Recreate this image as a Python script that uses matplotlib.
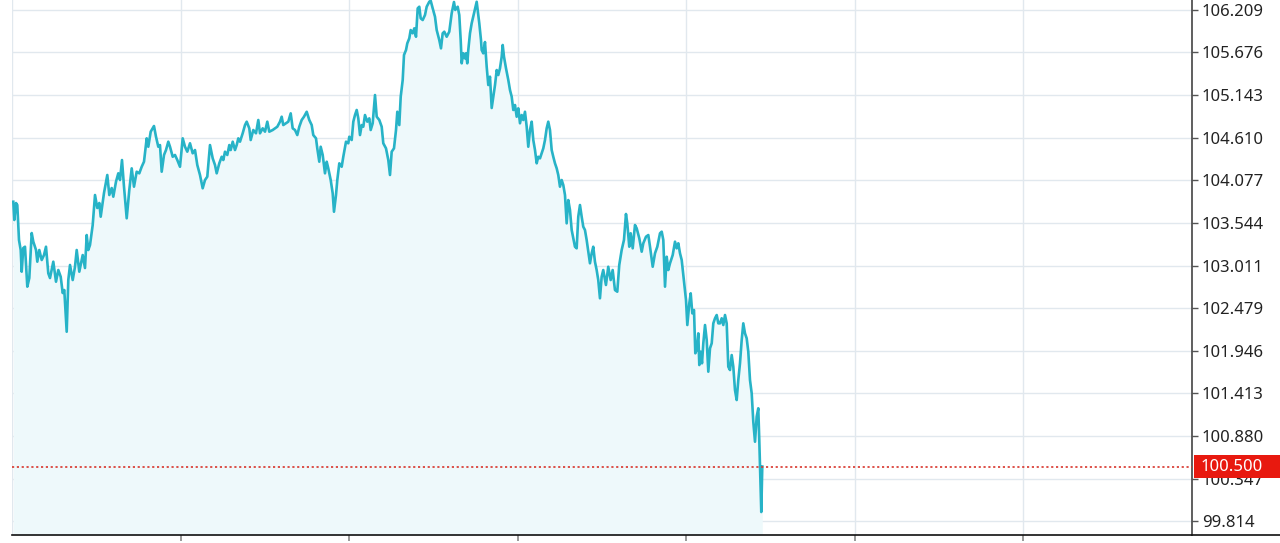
import matplotlib
matplotlib.use("Agg")
import matplotlib.pyplot as plt
import matplotlib.transforms as mtransforms
from matplotlib.patches import Rectangle

# ---- data (time in grid-days, price) ----
t_days = [
    0.0077, 0.0136, 0.0237, 0.0314, 0.0415, 0.0516, 0.0575, 0.0670, 0.0771, 0.0908,
    0.1026, 0.1169, 0.1264, 0.1424, 0.1501, 0.1619, 0.1762, 0.1898, 0.2017, 0.2153,
    0.2254, 0.2450, 0.2610, 0.2747, 0.2889, 0.3008, 0.3102, 0.3245, 0.3340, 0.3441,
    0.3601, 0.3737, 0.3838, 0.3992, 0.4194, 0.4330, 0.4431, 0.4526, 0.4627, 0.4787,
    0.4924, 0.5060, 0.5179, 0.5262, 0.5457, 0.5653, 0.5772, 0.5914, 0.6009, 0.6169,
    0.6306, 0.6407, 0.6525, 0.6644, 0.6804, 0.6958, 0.7101, 0.7237, 0.7397, 0.7551,
    0.7694, 0.7830, 0.7990, 0.8085, 0.8228, 0.8346, 0.8423, 0.8542, 0.8679, 0.8779,
    0.8880, 0.9017, 0.9135, 0.9272, 0.9373, 0.9533, 0.9669, 0.9806, 0.9966, 1.0126,
    1.0263, 1.0399, 1.0559, 1.0719, 1.0856, 1.0992, 1.1152, 1.1312, 1.1449, 1.1585,
    1.1745, 1.1906, 1.2042, 1.2143, 1.2297, 1.2440, 1.2535, 1.2635, 1.2772, 1.2891,
    1.2974, 1.3093, 1.3229, 1.3330, 1.3424, 1.3525, 1.3685, 1.3822, 1.3923, 1.4077,
    1.4160, 1.4314, 1.4474, 1.4611, 1.4712, 1.4872, 1.5008, 1.5145, 1.5263, 1.5465,
    1.5601, 1.5738, 1.5898, 1.5998, 1.6093, 1.6254, 1.6390, 1.6533, 1.6651, 1.6788,
    1.6924, 1.7043, 1.7185, 1.7322, 1.7482, 1.7636, 1.7778, 1.7873, 1.8033, 1.8110,
    1.8229, 1.8312, 1.8431, 1.8567, 1.8668, 1.8763, 1.8906, 1.9024, 1.9101, 1.9220,
    1.9297, 1.9416, 1.9558, 1.9653, 1.9814, 1.9950, 2.0009, 2.0152, 2.0247, 2.0347,
    2.0448, 2.0543, 2.0644, 2.0745, 2.0839, 2.0940, 2.1077, 2.1195, 2.1278, 2.1397,
    2.1534, 2.1635, 2.1789, 2.1931, 2.2026, 2.2186, 2.2323, 2.2423, 2.2524, 2.2660,
    2.2780, 2.2857, 2.2975, 2.3059, 2.3177, 2.3254, 2.3373, 2.3450, 2.3568, 2.3651,
    2.3770, 2.3865, 2.3966, 2.4067, 2.4161, 2.4244, 2.4363, 2.4499, 2.4600, 2.4754,
    2.4837, 2.4956, 2.5093, 2.5193, 2.5347, 2.5448, 2.5549, 2.5644, 2.5786, 2.5940,
    2.6083, 2.6219, 2.6296, 2.6439, 2.6534, 2.6617, 2.6676, 2.6771, 2.6872, 2.6931,
    2.7008, 2.7068, 2.7169, 2.7269, 2.7406, 2.7566, 2.7625, 2.7720, 2.7821, 2.7862,
    2.7957, 2.8058, 2.8159, 2.8254, 2.8355, 2.8456, 2.8551, 2.8653, 2.8754, 2.8848,
    2.8948, 2.9049, 2.9109, 2.9186, 2.9305, 2.9442, 2.9542, 2.9643, 2.9738, 2.9839,
    2.9939, 3.0034, 3.0135, 3.0236, 3.0331, 3.0431, 3.0532, 3.0627, 3.0728, 3.0829,
    3.0924, 3.1025, 3.1125, 3.1220, 3.1321, 3.1422, 3.1517, 3.1618, 3.1718, 3.1813,
    3.1914, 3.2015, 3.2110, 3.2211, 3.2312, 3.2406, 3.2507, 3.2608, 3.2703, 3.2804,
    3.2904, 3.2999, 3.3100, 3.3201, 3.3295, 3.3396, 3.3497, 3.3592, 3.3693, 3.3794,
    3.3889, 3.3989, 3.4090, 3.4185, 3.4286, 3.4387, 3.4482, 3.4582, 3.4683, 3.4778,
    3.4879, 3.4980, 3.5074, 3.5234, 3.5371, 3.5514, 3.5633, 3.5769, 3.5906, 3.6024,
    3.6167, 3.6303, 3.6422, 3.6500, 3.6618, 3.6702, 3.6821, 3.6957, 3.7058, 3.7212,
    3.7355, 3.7450, 3.7610, 3.7747, 3.7848, 3.8008, 3.8144, 3.8281, 3.8441, 3.8542,
    3.8637, 3.8738, 3.8838, 3.8933, 3.9034, 3.9194, 3.9331, 3.9431, 3.9526, 3.9627,
    3.9728, 3.9823, 3.9983, 4.0061, 4.0179, 4.0262, 4.0357, 4.0458, 4.0535, 4.0618,
    4.0713, 4.0772, 4.0855, 4.0932, 4.1010, 4.1111, 4.1211, 4.1306, 4.1407, 4.1508,
    4.1603, 4.1704, 4.1804, 4.1899, 4.2000, 4.2101, 4.2196, 4.2297, 4.2397, 4.2492,
    4.2593, 4.2694, 4.2789, 4.2889, 4.2990, 4.3085, 4.3186, 4.3287, 4.3382, 4.3483,
    4.3583, 4.3678, 4.3779, 4.3880, 4.3975, 4.4076, 4.4176, 4.4271, 4.4330, 4.4413,
    4.4449, 4.4508,
]

price = [
    103.808, 103.580, 103.792, 103.767, 103.330, 103.205, 102.934, 103.230, 103.246, 102.747,
    102.855, 103.417, 103.309, 103.205, 103.059, 103.205, 103.080, 103.142, 103.246, 102.914,
    102.855, 103.059, 102.809, 102.955, 102.871, 102.668, 102.705, 102.184, 102.830, 103.018,
    102.830, 102.996, 103.205, 102.934, 103.142, 102.980, 103.392, 103.205, 103.267, 103.517,
    103.892, 103.730, 103.792, 103.621, 103.917, 104.142, 103.892, 103.979, 103.871, 104.058,
    104.163, 104.079, 104.329, 103.996, 103.601, 103.954, 104.225, 103.996, 104.183, 104.163,
    104.245, 104.308, 104.600, 104.495, 104.683, 104.725, 104.754, 104.620, 104.495, 104.516,
    104.183, 104.392, 104.454, 104.558, 104.495, 104.370, 104.392, 104.329, 104.245, 104.600,
    104.495, 104.433, 104.538, 104.413, 104.454, 104.267, 104.142, 103.976, 104.079, 104.121,
    104.516, 104.350, 104.267, 104.163, 104.288, 104.370, 104.329, 104.433, 104.392, 104.516,
    104.454, 104.558, 104.454, 104.516, 104.600, 104.558, 104.663, 104.766, 104.808, 104.725,
    104.579, 104.704, 104.663, 104.829, 104.663, 104.725, 104.683, 104.808, 104.683, 104.704,
    104.725, 104.745, 104.808, 104.870, 104.766, 104.788, 104.808, 104.912, 104.725, 104.704,
    104.641, 104.745, 104.829, 104.870, 104.932, 104.829, 104.766, 104.641, 104.600, 104.475,
    104.308, 104.495, 104.392, 104.163, 104.308, 104.225, 104.079, 103.913, 103.683, 103.892,
    104.079, 104.288, 104.245, 104.370, 104.558, 104.538, 104.620, 104.579, 104.808, 104.891,
    104.954, 104.850, 104.641, 104.766, 104.745, 104.891, 104.808, 104.850, 104.704, 104.788,
    105.141, 104.870, 104.829, 104.745, 104.538, 104.475, 104.329, 104.142, 104.433, 104.475,
    104.704, 104.932, 104.766, 105.120, 105.328, 105.641, 105.703, 105.787, 105.849, 105.953,
    105.912, 105.974, 105.869, 106.224, 106.244, 106.099, 106.078, 106.140, 106.244, 106.306,
    106.320, 106.224, 106.119, 105.953, 105.828, 105.724, 105.912, 105.932, 105.869, 105.932,
    106.162, 106.303, 106.203, 106.244, 106.140, 105.828, 105.537, 105.662, 105.599, 105.662,
    105.537, 105.703, 105.912, 106.037, 106.162, 106.306, 106.203, 106.037, 105.828, 105.703,
    105.662, 105.803, 105.495, 105.266, 105.370, 104.979, 105.120, 105.266, 105.453, 105.391,
    105.475, 105.619, 105.766, 105.619, 105.475, 105.328, 105.203, 105.120, 104.954, 105.016,
    104.870, 104.975, 104.788, 104.891, 104.829, 104.932, 104.745, 104.495, 104.704, 104.808,
    104.579, 104.454, 104.288, 104.370, 104.350, 104.413, 104.475, 104.579, 104.725, 104.808,
    104.704, 104.454, 104.370, 104.288, 104.225, 104.142, 103.996, 104.079, 104.017, 103.892,
    103.538, 103.829, 103.705, 103.455, 103.351, 103.246, 103.226, 103.621, 103.767, 103.621,
    103.496, 103.455, 103.330, 103.184, 103.039, 103.164, 103.246, 103.059, 102.955, 102.830,
    102.602, 102.871, 102.955, 102.768, 102.996, 102.830, 102.955, 102.705, 102.684, 103.018,
    103.205, 103.330, 103.655, 103.538, 103.246, 103.414, 103.226, 103.517, 103.476, 103.351,
    103.184, 103.289, 103.371, 103.392, 103.246, 102.996, 103.164, 103.246, 103.414, 103.434,
    103.330, 102.747, 103.121, 102.955, 103.039, 103.142, 103.309, 103.226, 103.289, 103.164,
    103.080, 102.893, 102.580, 102.268, 102.539, 102.664, 102.414, 102.455, 101.915, 101.956,
    102.164, 101.768, 101.935, 101.790, 102.040, 102.268, 102.081, 101.685, 101.977, 102.040,
    102.289, 102.352, 102.393, 102.289, 102.289, 102.352, 102.268, 102.393, 102.289, 101.747,
    101.706, 101.893, 101.747, 101.456, 101.331, 101.581, 101.790, 102.081, 102.289, 102.164,
    102.102, 101.935, 101.581, 101.415, 101.060, 100.810, 101.123, 101.228, 100.832, 100.207,
    99.932, 100.500,
]

y_ticks = [99.814, 100.347, 100.880, 101.413, 101.946, 102.479, 103.011,
           103.544, 104.077, 104.610, 105.143, 105.676, 106.209]
y_tick_labels = ["99.814", "100.347", "100.880", "101.413", "101.946", "102.479", "103.011",
                 "103.544", "104.077", "104.610", "105.143", "105.676", "106.209"]
x_grid = [0, 1, 2, 3, 4, 5, 6, 7]
x_ticks = [1, 2, 3, 4, 5, 6]
current_price = 100.500
current_label = "100.500"

plt.rcParams['font.family'] = ['Noto Sans', 'DejaVu Sans']

fig = plt.figure(figsize=(12.8, 5.43), dpi=100)
ax = fig.add_axes([12 / 1280, 8 / 543, 1180 / 1280, 535 / 543])

ymin, ymax = 99.645, 106.328
ax.set_xlim(0, 7)
ax.set_ylim(ymin, ymax)

# grid
for gx in x_grid:
    ax.axvline(gx, color='#e1e8ee', lw=1.0, zorder=0)
for gy in y_ticks:
    ax.axhline(gy, color='#e1e8ee', lw=1.0, zorder=0)

line_color = '#27b3c7'
ax.fill_between(t_days, price, ymin, color='#eef9fb', lw=0, zorder=1)
ax.plot(t_days, price, color=line_color, lw=1.9, zorder=3, solid_joinstyle='round')

# current price line
ax.axhline(current_price, color='#d8352b', lw=1.2, linestyle=(0, (1.3, 1.6)), zorder=4)

# axes styling
ax.yaxis.tick_right()
ax.set_yticks(y_ticks)
ax.set_yticklabels(y_tick_labels)
ax.set_xticks(x_ticks)
ax.set_xticklabels([])
ax.tick_params(axis='y', which='both', length=4, width=1, color='#555555',
               labelsize=12, labelcolor='#222222', pad=3, direction='out')
ax.tick_params(axis='x', length=4, width=1.2, color='#888888', direction='out')
for s in ['top', 'left']:
    ax.spines[s].set_visible(False)
ax.spines['right'].set_color('#444444')
ax.spines['right'].set_linewidth(1.2)
ax.spines['bottom'].set_color('#111111')
ax.spines['bottom'].set_linewidth(1.2)

# bottom line continues under price scale
trans_b = mtransforms.blended_transform_factory(ax.transAxes, ax.transAxes)
ax.plot([1.0, 1.08], [0, 0], color='#111111', lw=1.2, transform=trans_b, clip_on=False)

# current price label box
trans = mtransforms.blended_transform_factory(ax.transAxes, ax.transData)
ax.add_patch(Rectangle((1.0017, current_price - 0.145), 0.08, 0.29,
                       transform=trans, facecolor='#e8190f', edgecolor='none',
                       clip_on=False, zorder=10))
ax.text(1.0075, current_price, current_label, transform=trans, color='white',
        fontsize=12, va='center', ha='left', zorder=11, clip_on=False)

fig.savefig('out.png', dpi=100)
